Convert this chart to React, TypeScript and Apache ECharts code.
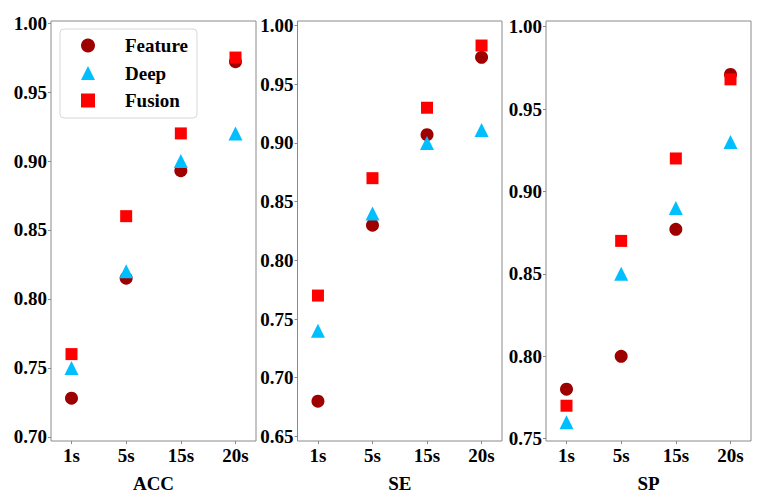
import React, { useEffect, useRef } from "react";
import * as echarts from "echarts";

const categories = ["1s", "5s", "15s", "20s"];
const seriesNames = ["Feature", "Deep", "Fusion"];

const accFeature = [0.728, 0.815, 0.893, 0.972];
const accDeep = [0.75, 0.82, 0.9, 0.92];
const accFusion = [0.76, 0.86, 0.92, 0.975];

const seFeature = [0.68, 0.83, 0.907, 0.973];
const seDeep = [0.74, 0.84, 0.9, 0.911];
const seFusion = [0.77, 0.87, 0.93, 0.983];

const spFeature = [0.78, 0.8, 0.877, 0.971];
const spDeep = [0.76, 0.85, 0.89, 0.93];
const spFusion = [0.77, 0.87, 0.92, 0.968];

const accTicks = [0.7, 0.75, 0.8, 0.85, 0.9, 0.95, 1.0];
const seTicks = [0.65, 0.7, 0.75, 0.8, 0.85, 0.9, 0.95, 1.0];
const spTicks = [0.75, 0.8, 0.85, 0.9, 0.95, 1.0];

const panels = [
  { name: "ACC", ticks: accTicks, min: 0.697, max: 1.0015, data: [accFeature, accDeep, accFusion] },
  { name: "SE", ticks: seTicks, min: 0.6461, max: 1.0039, data: [seFeature, seDeep, seFusion] },
  { name: "SP", ticks: spTicks, min: 0.7486, max: 1.0034, data: [spFeature, spDeep, spFusion] },
];

const colors = ["#9e0000", "#00bfff", "#ff0000"];
const symbols = ["circle", "triangle", "rect"];
const sizes = [13, 14, 12];
const FONT = "'Liberation Serif', 'Times New Roman', serif";

export default function App() {
  const ref = useRef<HTMLDivElement>(null);
  useEffect(() => {
    if (!ref.current) return;
    const chart = echarts.init(ref.current, null, { renderer: "svg" });
    const grids = [
      { left: 51, top: 21, width: 205, height: 428 },
      { left: 297.5, top: 21, width: 204.5, height: 428 },
      { left: 546, top: 21, width: 205, height: 428 },
    ].map((g) => ({ ...g, show: true, borderColor: "#8a8a8a", borderWidth: 1, backgroundColor: "transparent" }));
    const catIdx = categories.map((_, i) => i);
    const xAxis = panels.map((p, i) => ({
      type: "value",
      gridIndex: i,
      min: -0.375,
      max: 3.375,
      name: p.name,
      nameLocation: "middle",
      nameGap: 33,
      nameTextStyle: { fontFamily: FONT, fontWeight: "bold", fontSize: 19, color: "#000" },
      axisLine: { show: false },
      splitLine: { show: false },
      axisTick: { show: true, length: 3, customValues: catIdx, lineStyle: { color: "#8a8a8a" } },
      axisLabel: {
        customValues: catIdx,
        formatter: (v: number) => categories[Math.round(v)] ?? "",
        fontFamily: FONT,
        fontWeight: "bold",
        fontSize: 19,
        color: "#000",
        margin: 5,
      },
    }));
    const yAxis = panels.map((p, i) => ({
      type: "value",
      gridIndex: i,
      min: p.min,
      max: p.max,
      axisLine: { show: false, onZero: false },
      splitLine: { show: false },
      axisTick: { show: true, length: 3, customValues: p.ticks, lineStyle: { color: "#8a8a8a" } },
      axisLabel: {
        customValues: p.ticks,
        formatter: (v: number) => v.toFixed(2),
        fontFamily: FONT,
        fontWeight: "bold",
        fontSize: 19,
        color: "#000",
        margin: 4,
      },
    }));
    const series: any[] = [];
    panels.forEach((p, pi) => {
      p.data.forEach((vals, si) => {
        series.push({
          type: "scatter",
          name: seriesNames[si],
          xAxisIndex: pi,
          yAxisIndex: pi,
          symbol: symbols[si],
          symbolSize: sizes[si],
          itemStyle: { color: colors[si], opacity: 1 },
          z: 2 + si,
          data: vals.map((v, k) => [k, v]),
        });
      });
    });
    chart.setOption({
      animation: false,
      backgroundColor: "#fff",
      grid: grids,
      xAxis,
      yAxis,
      legend: {
        show: true,
        orient: "vertical",
        left: 60,
        top: 29,
        data: seriesNames,
        itemWidth: 14,
        itemHeight: 14,
        itemGap: 8.5,
        padding: [7, 9, 8, 21],
        backgroundColor: "#fff",
        borderColor: "#d8d8d8",
        borderWidth: 1,
        borderRadius: 4,
        selectedMode: false,
        textStyle: {
          fontFamily: FONT,
          fontWeight: "bold",
          fontSize: 19,
          color: "#000",
          padding: [0, 0, 0, 25],
        },
      },
      series,
    });
    return () => chart.dispose();
  }, []);
  return (
    <div
      ref={ref}
      style={{ position: "absolute", left: 0, top: 0, width: 762, height: 498 }}
    />
  );
}
